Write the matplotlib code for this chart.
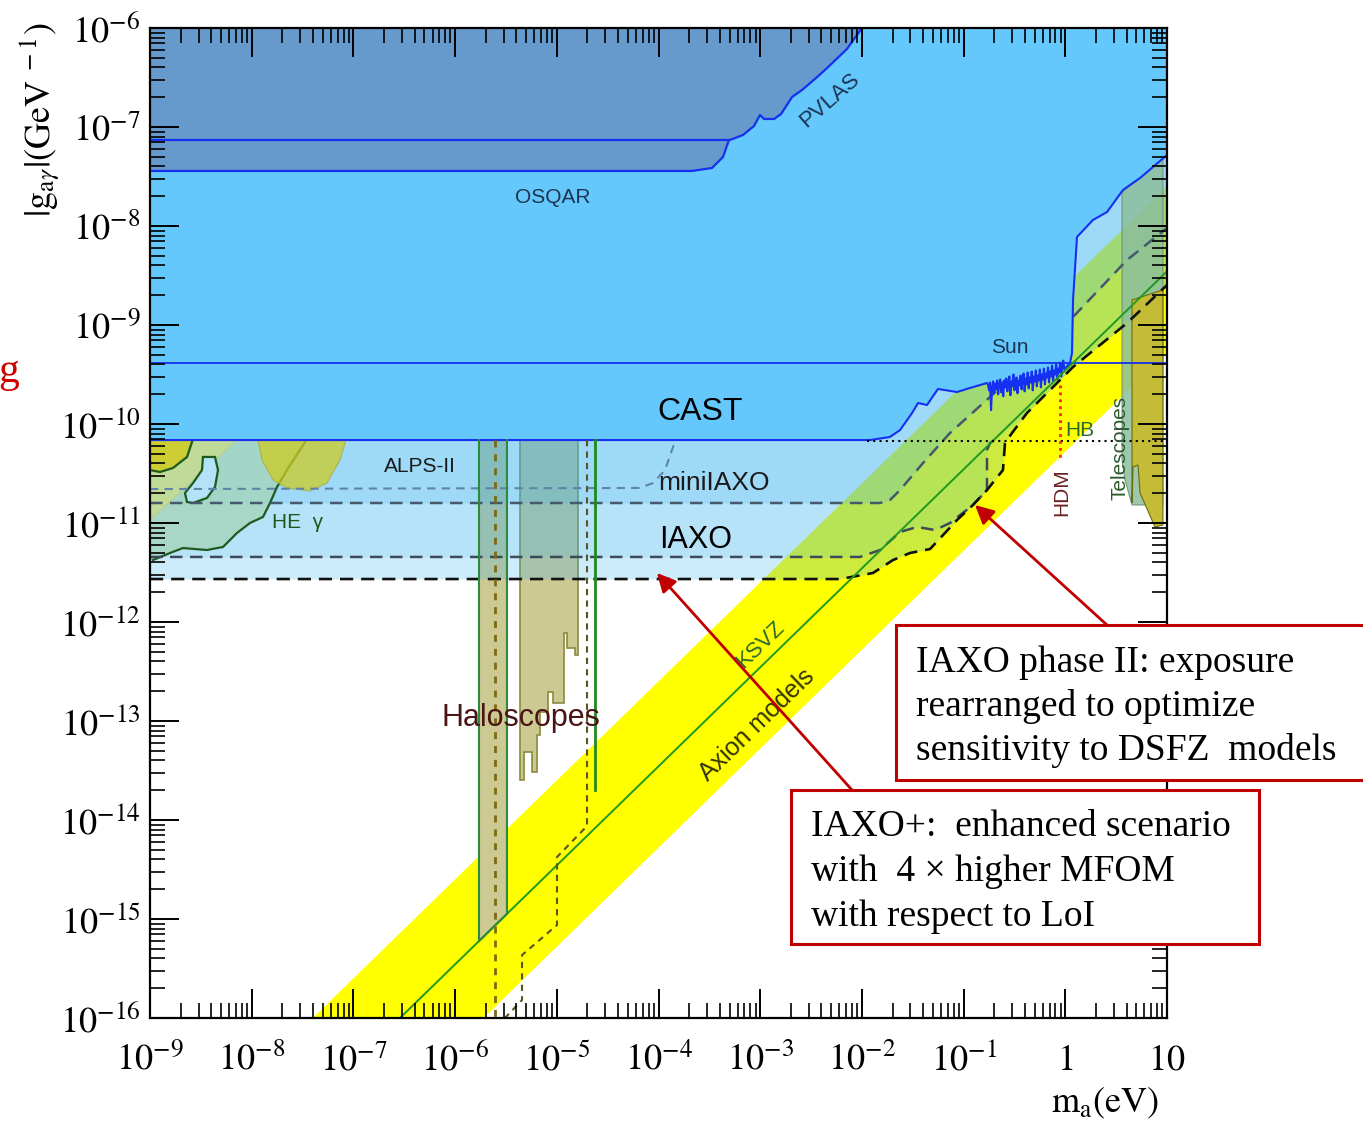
import numpy as np
import matplotlib.pyplot as plt
from matplotlib.patches import Rectangle, Polygon
from matplotlib.ticker import LogLocator, NullFormatter

plt.rcParams['mathtext.fontset'] = 'stix'
plt.rcParams['font.family'] = ['Liberation Sans', 'DejaVu Sans']

# curves are stored as log10(m_a / eV) and log10(g_ag / GeV^-1)

# CAST exclusion boundary (vacuum, then noisy gas phase, then high mass)
cast_m = [-9.0, -1.920, -1.724, -1.625, -1.507, -1.448, -1.360, -1.252, -1.065, -0.937, -0.770]
cast_g = [-10.162, -10.162, -10.131, -10.061, -9.889, -9.788, -9.808, -9.646, -9.677, -9.636, -9.586]
cast_noise_m = [-0.76, -0.75, -0.74, -0.73, -0.72, -0.71, -0.70, -0.69, -0.68, -0.67,
                -0.66, -0.65, -0.64, -0.63, -0.62, -0.61, -0.60, -0.59, -0.58, -0.57,
                -0.56, -0.55, -0.54, -0.53, -0.52, -0.51, -0.50, -0.49, -0.48, -0.47,
                -0.46, -0.45, -0.44, -0.43, -0.42, -0.41, -0.40, -0.39, -0.38, -0.37,
                -0.36, -0.35, -0.34, -0.33, -0.32, -0.31, -0.30, -0.29, -0.28, -0.27,
                -0.26, -0.25, -0.24, -0.23, -0.22, -0.21, -0.20, -0.19, -0.18, -0.17,
                -0.16, -0.15, -0.14, -0.13, -0.12, -0.11, -0.10, -0.09, -0.08, -0.07,
                -0.06, -0.05, -0.04, -0.03, -0.02, -0.01]
cast_noise_g = [-9.60, -9.66, -9.58, -9.86, -9.63, -9.57, -9.69, -9.59, -9.65, -9.56,
                -9.70, -9.60, -9.55, -9.68, -9.58, -9.72, -9.56, -9.63, -9.54, -9.67,
                -9.59, -9.52, -9.71, -9.57, -9.62, -9.50, -9.66, -9.58, -9.53, -9.69,
                -9.56, -9.61, -9.51, -9.65, -9.55, -9.49, -9.67, -9.54, -9.60, -9.48,
                -9.64, -9.53, -9.58, -9.47, -9.66, -9.52, -9.57, -9.46, -9.62, -9.51,
                -9.56, -9.45, -9.63, -9.50, -9.55, -9.44, -9.60, -9.49, -9.53, -9.43,
                -9.58, -9.47, -9.52, -9.41, -9.57, -9.46, -9.50, -9.40, -9.55, -9.44,
                -9.48, -9.38, -9.52, -9.42, -9.36, -9.45]
cast_hi_m = [0.046, 0.066, 0.076, 0.115, 0.272, 0.410, 0.567, 0.735, 1.0]
cast_hi_g = [-9.384, -9.283, -8.747, -8.111, -7.939, -7.859, -7.636, -7.515, -7.283]

sun_g = -9.384

# OSQAR and PVLAS
osqar_m = [-9.0, -3.671, -3.474, -3.366, -3.307]
osqar_g = [-7.444, -7.444, -7.414, -7.303, -7.131]
pvlas_m = [-9.0, -3.297, -3.169, -3.061, -3.002, -2.963, -2.864, -2.795, -2.687,
           -2.589, -2.451, -2.353, -2.147, -2.0]
pvlas_g = [-7.131, -7.131, -7.081, -6.990, -6.879, -6.919, -6.919, -6.869, -6.697,
           -6.626, -6.505, -6.414, -6.212, -6.0]

# prospects
alps_m = [-9.0, -4.182, -4.054, -3.936, -3.857, -3.828]
alps_g = [-10.657, -10.646, -10.596, -10.465, -10.232, -10.162]
mini_m = [-9.0, -1.822, -1.724, -1.625, -1.399, -1.134, -0.740, 0.076, 0.607, 1.0]
mini_g = [-10.798, -10.798, -10.768, -10.667, -10.394, -10.091, -9.727, -8.919, -8.343, -8.02]
iaxo_m = [-9.0, -2.019, -1.822, -1.625, -1.458, -1.281, -1.134, -0.908, -0.770, -0.770, -0.740, -0.672]
iaxo_g = [-11.343, -11.343, -11.273, -11.091, -11.040, -11.071, -11.0, -10.818, -10.667,
          -10.263, -10.192, -10.141]
plus_m = [-9.0, -2.215, -1.891, -1.694, -1.527, -1.330, -1.065, -0.908, -0.770, -0.613,
          -0.593, -0.524, -0.377, 0.076, 0.607, 1.0]
plus_g = [-11.566, -11.566, -11.505, -11.374, -11.303, -11.263, -10.970, -10.818, -10.667,
          -10.465, -10.192, -10.091, -9.889, -9.424, -8.980, -8.596]

# QCD axion band and KSVZ line
band_m = [-9.0, 1.0]
band_upper_g = [-17.6, -7.6]
band_lower_g = [-19.28, -9.28]
ksvz_m = [-9.0, 1.0]
ksvz_g = [-18.458, -8.458]

# haloscopes
halo1_m = [-5.765, -5.490]
halo1_bottom_g = [-15.223, -14.948]
halo_top_g = -10.162
halo2_m = [-5.362, -4.792, -4.792, -4.821, -4.821, -4.900, -4.900, -4.929, -4.929, -5.037,
           -5.037, -5.087, -5.087, -5.165, -5.165, -5.195, -5.195, -5.244, -5.244, -5.322,
           -5.322, -5.362]
halo2_g = [-10.162, -10.162, -12.333, -12.333, -12.263, -12.263, -12.111, -12.111, -12.818,
           -12.818, -12.707, -12.707, -12.909, -12.909, -13.141, -13.141, -13.515, -13.515,
           -13.313, -13.313, -13.596, -13.596]
halo3_m = -4.624
halo3_g = [-10.162, -13.697]
madmax_m = -5.608
prospect_m = [-4.703, -4.703, -4.998, -4.998, -5.342, -5.342, -5.509]
prospect_g = [-10.162, -14.061, -14.374, -15.061, -15.364, -15.818, -16.0]

# HE gamma-ray limits
heg_m = [-9.0, -7.476, -7.476, -7.653, -7.751, -7.820, -7.889, -8.017, -8.145, -8.282,
         -8.440, -8.676, -8.803, -8.970, -9.0]
heg_g = [-10.162, -10.162, -10.182, -10.465, -10.636, -10.798, -10.939, -11.0, -11.101,
         -11.242, -11.273, -11.253, -11.303, -11.374, -11.374]
heg_hole_m = [-8.479, -8.361, -8.331, -8.361, -8.440, -8.577, -8.636, -8.656, -8.577, -8.489]
heg_hole_g = [-10.333, -10.333, -10.465, -10.636, -10.747, -10.798, -10.788, -10.697,
              -10.596, -10.465]
heg_blob1_m = [-9.0, -8.577, -8.587, -8.636, -8.774, -8.902, -9.0]
heg_blob1_g = [-10.162, -10.162, -10.182, -10.333, -10.444, -10.485, -10.465]
heg_blob2_m = [-7.938, -7.899, -7.791, -7.653, -7.427, -7.260, -7.132, -7.073]
heg_blob2_g = [-10.162, -10.364, -10.566, -10.646, -10.677, -10.596, -10.364, -10.162]
heg_wedge_m = [-9.0, -8.145, -9.0]
heg_wedge_g = [-10.162, -10.162, -10.970]

# telescopes
tel_m = [0.558, 0.735, 0.96, 0.96, 0.656, 0.587, 0.558]
tel_g = [-7.657, -7.515, -7.32, -10.818, -10.818, -10.566, -10.364]
tel_core_m = [0.656, 0.96, 0.96, 0.882, 0.735, 0.715, 0.666, 0.656]
tel_core_g = [-8.747, -8.646, -11.020, -11.040, -10.697, -10.414, -10.434, -10.798]

# HB and HDM
hb_m = [-1.95, 1.0]
hb_g = -10.172
hdm_m = -0.052
hdm_g = [-9.606, -10.364]

x_tick_labels = [r'$10^{-9}$', r'$10^{-8}$', r'$10^{-7}$', r'$10^{-6}$', r'$10^{-5}$',
                 r'$10^{-4}$', r'$10^{-3}$', r'$10^{-2}$', r'$10^{-1}$', r'$1$', r'$10$']
y_tick_labels = [r'$10^{-16}$', r'$10^{-15}$', r'$10^{-14}$', r'$10^{-13}$', r'$10^{-12}$',
                 r'$10^{-11}$', r'$10^{-10}$', r'$10^{-9}$', r'$10^{-8}$', r'$10^{-7}$',
                 r'$10^{-6}$']


def p(a):
    return 10.0 ** np.asarray(a, dtype=float)


W, H = 1363, 1124
fig = plt.figure(figsize=(W / 100, H / 100), dpi=100)
ax = fig.add_axes([150 / W, 1 - 1018 / H, 1017 / W, 990 / H])
ax.set_xscale('log')
ax.set_yscale('log')
TOP = 1e-6

# axion band
ax.fill_between(p(band_m), p(band_lower_g), p(band_upper_g), color='#ffff00', lw=0, zorder=1)

# haloscope fills
ax.fill_between(p(halo1_m), p(halo1_bottom_g), p([halo_top_g] * 2), color='#cdc993',
                lw=0, zorder=2)
ax.add_patch(Polygon(np.column_stack([p(halo2_m), p(halo2_g)]), closed=True,
                     facecolor='#cdc993', edgecolor='#8c8a3a', lw=1.2, zorder=2))

# prospect regions (IAXO+, IAXO, miniIAXO), translucent
overlay = '#3cb4f0'
ax.fill_between(p(plus_m), p(plus_g), TOP, color=overlay, alpha=0.26, lw=0, zorder=3)
ax.fill_between(p(iaxo_m + plus_m[-4:]), p(iaxo_g + plus_g[-4:]), TOP, color=overlay,
                alpha=0.14, lw=0, zorder=3)
ax.fill_between(p(mini_m), p(mini_g), TOP, color=overlay, alpha=0.2, lw=0, zorder=3)

# HE gamma
ax.add_patch(Polygon(np.column_stack([p(heg_m), p(heg_g)]), closed=True,
                     facecolor='#a6d6c0', edgecolor='none', alpha=0.85, zorder=4))
ax.plot(p(heg_m[2:-1]), p(heg_g[2:-1]), color='#1e5a1e', lw=1.6, zorder=4.2)
ax.add_patch(Polygon(np.column_stack([p(heg_wedge_m), p(heg_wedge_g)]), closed=True,
                     facecolor='#c8dc8c', edgecolor='#b8cc80', lw=0.8, alpha=0.8, zorder=4.1))
ax.add_patch(Polygon(np.column_stack([p(heg_hole_m), p(heg_hole_g)]), closed=True,
                     facecolor='#b4e2f8', edgecolor='#1e5a1e', lw=1.6, zorder=4.2))
ax.add_patch(Polygon(np.column_stack([p(heg_blob1_m), p(heg_blob1_g)]), closed=True,
                     facecolor='#cccc33', edgecolor='none', zorder=4.3))
ax.plot(p(heg_blob1_m[2:]), p(heg_blob1_g[2:]), color='#1e5a1e', lw=1.6, zorder=4.3)
ax.add_patch(Polygon(np.column_stack([p(heg_blob2_m), p(heg_blob2_g)]), closed=True,
                     facecolor='#cccc22', edgecolor='#a8a840', lw=0.8, alpha=0.75, zorder=4.3))

# telescopes
ax.add_patch(Polygon(np.column_stack([p(tel_m), p(tel_g)]), closed=True,
                     facecolor='#8cbf9c', edgecolor='#6a8a70', lw=0.8, alpha=0.85, zorder=4))
ax.add_patch(Polygon(np.column_stack([p(tel_core_m), p(tel_core_g)]), closed=True,
                     facecolor='#c4bc36', edgecolor='#6a6a10', lw=0.8, zorder=4.1))

# prospect curves sit under the CAST region
ax.plot(p(alps_m), p(alps_g), color='#5f84a8', lw=1.5, dashes=(4, 3), zorder=4.6)
ax.plot(p(mini_m), p(mini_g), color='#46596c', lw=1.8, dashes=(5, 3), zorder=4.6)
ax.plot(p(iaxo_m), p(iaxo_g), color='#3c4a5a', lw=1.8, dashes=(5, 3), zorder=4.6)
ax.plot(p(plus_m), p(plus_g), color='#111111', lw=1.9, dashes=(5, 3), zorder=4.7)

# CAST
cast_all_m = cast_m + cast_noise_m + cast_hi_m
cast_all_g = cast_g + cast_noise_g + cast_hi_g
ax.fill_between(p(cast_all_m), p(cast_all_g), TOP, color='#64c8fd', lw=0, zorder=5)
ax.plot(p(cast_all_m), p(cast_all_g), color='#1530f0', lw=1.5, zorder=6)

# OSQAR / PVLAS
excl_m = osqar_m + pvlas_m[2:]
excl_g = osqar_g + pvlas_g[2:]
ax.fill_between(p(excl_m), p(excl_g), TOP, color='#6699cc', lw=0, zorder=6)
ax.plot(p(osqar_m), p(osqar_g), color='#1530f0', lw=1.6, zorder=7)
ax.plot(p(pvlas_m), p(pvlas_g), color='#1530f0', lw=1.6, zorder=7)

# Sun line
ax.axhline(p(sun_g), color='#1530f0', lw=1.3, zorder=7)

# KSVZ
ax.plot(p(ksvz_m), p(ksvz_g), color='#1f9a1f', lw=1.4, zorder=8)

# haloscope outlines and prospects
ax.plot(p([halo1_m[0], halo1_m[0], halo1_m[1], halo1_m[1]]),
        p([halo_top_g, halo1_bottom_g[0], halo1_bottom_g[1], halo_top_g]),
        color='#2d8a3c', lw=1.5, zorder=8)
ax.plot(p([halo3_m] * 2), p(halo3_g), color='#1f8a1f', lw=2.0, zorder=8)
ax.plot(p([madmax_m] * 2), p([halo_top_g, -16.0]), color='#7a6a10', lw=2.0,
        dashes=(2.5, 2.5), zorder=8)
ax.plot(p(prospect_m), p(prospect_g), color='#5a5420', lw=1.5, dashes=(3, 2.5), zorder=8)

# HB, HDM
ax.plot(p(hb_m), p([hb_g] * 2), color='black', lw=1.5, ls=(0, (1, 2)), zorder=8)
ax.plot(p([hdm_m] * 2), p(hdm_g), color='#ff2020', lw=2.0, ls=(0, (1, 1.5)), zorder=8)

# region labels
lab = dict(zorder=10, ha='center', va='center')
ax.text(4.85e-3, 1.87e-7, 'PVLAS', fontsize=16, color='#1c3452', rotation=41, **lab)
ax.text(9.2e-6, 1.96e-8, 'OSQAR', fontsize=15, color='#1c3452', **lab)
ax.text(0.286, 5.86e-10, 'Sun', fontsize=15, color='#1c3452', **lab)
ax.text(2.56e-4, 1.32e-10, 'CAST', fontsize=23, color='black', **lab)
ax.text(4.52e-7, 3.68e-11, 'ALPS-II', fontsize=15, color='#1a1a1a', **lab)
ax.text(3.52e-4, 2.54e-11, 'miniIAXO', fontsize=19, color='#1a1a1a', **lab)
ax.text(2.34e-4, 6.73e-12, 'IAXO', fontsize=22, color='black', **lab)
ax.text(2.85e-8, 1.02e-11, 'HE  \u03b3', fontsize=15, color='#1e5a1e', **lab)
ax.text(4.45e-6, 1.07e-13, 'Haloscopes', fontsize=22, color='#4a1414', **lab)
ax.text(9.95e-4, 5.86e-13, 'KSVZ', fontsize=16, color='#2a6a2a', rotation=44, **lab)
ax.text(9.3e-4, 9.1e-14, 'Axion models', fontsize=18, color='#333300', rotation=44, **lab)
ax.text(1.40, 8.69e-11, 'HB', fontsize=15, color='#2a6a2a', **lab)
ax.text(0.93, 2.06e-11, 'HDM', fontsize=15, color='#6a2222', rotation=90, **lab)
ax.text(3.45, 5.73e-11, 'Telescopes', fontsize=15, color='#2a5a2a', rotation=90, **lab)

# axes
ax.set_xlim(1e-9, 10)
ax.set_ylim(1e-16, 1e-6)
ax.set_xticks(p(np.arange(-9, 2)), x_tick_labels)
ax.set_yticks(p(np.arange(-16, -5)), y_tick_labels)
ax.xaxis.set_minor_locator(LogLocator(base=10, subs=np.arange(2, 10), numticks=100))
ax.yaxis.set_minor_locator(LogLocator(base=10, subs=np.arange(2, 10), numticks=100))
ax.xaxis.set_minor_formatter(NullFormatter())
ax.yaxis.set_minor_formatter(NullFormatter())
ax.tick_params(which='both', direction='in', top=True, right=True, labelsize=26)
ax.tick_params(which='major', length=21, width=1.4)
ax.tick_params(which='minor', length=10.5, width=1.2)
ax.tick_params(axis='x', pad=18)
ax.tick_params(axis='y', pad=7)
ax.xaxis.set_zorder(15)
ax.yaxis.set_zorder(15)
for s in ax.spines.values():
    s.set_linewidth(1.6)
    s.set_zorder(15)

fig.text(40 / W, 1 - 120 / H, r'$|\mathrm{g}_{\mathrm{a}\gamma}|(\mathrm{GeV}^{\ -1})$',
         rotation=90, fontsize=26, ha='center', va='center')
fig.text(1105 / W, 1 - 1103 / H, r'$\mathrm{m_a(eV)}$', fontsize=26, ha='center', va='center')
fig.text(-2 / W, 1 - 372 / H, 'g', color='#cc0000', family='Liberation Serif', fontsize=30,
         ha='left', va='center')

# call-out boxes with arrows
red = '#c00000'
ax.annotate('', xy=(p(-0.888), p(-10.818)), xycoords='data',
            xytext=(1107 / W, 1 - 625 / H), textcoords='figure fraction',
            arrowprops=dict(arrowstyle='-|>', color=red, lw=2, mutation_scale=28,
                            shrinkA=0, shrinkB=0), annotation_clip=False, zorder=12)
ax.annotate('', xy=(p(-4.015), p(-11.505)), xycoords='data',
            xytext=(852 / W, 1 - 790 / H), textcoords='figure fraction',
            arrowprops=dict(arrowstyle='-|>', color=red, lw=2, mutation_scale=28,
                            shrinkA=0, shrinkB=0), annotation_clip=False, zorder=12)

fig.add_artist(Rectangle((896 / W, 1 - 780 / H), 480 / W, 155 / H, transform=fig.transFigure,
                         facecolor='white', edgecolor=red, lw=2.2, zorder=20))
fig.add_artist(Rectangle((791 / W, 1 - 944 / H), 468 / W, 154 / H, transform=fig.transFigure,
                         facecolor='white', edgecolor=red, lw=2.2, zorder=20))

serif = dict(family='Liberation Serif', fontsize=27, ha='left', va='baseline', zorder=21)
box1_lines = ['IAXO phase II: exposure', 'rearranged to optimize',
              'sensitivity to DSFZ  models']
box2_lines = ['IAXO+:  enhanced scenario', 'with  4 \u00d7 higher MFOM',
              'with respect to LoI']
for i, t in enumerate(box1_lines):
    fig.text(916 / W, 1 - (672 + 44 * i) / H, t, **serif)
for i, t in enumerate(box2_lines):
    fig.text(811 / W, 1 - (836 + 45 * i) / H, t, **serif)

fig.savefig('out.png', dpi=100)
